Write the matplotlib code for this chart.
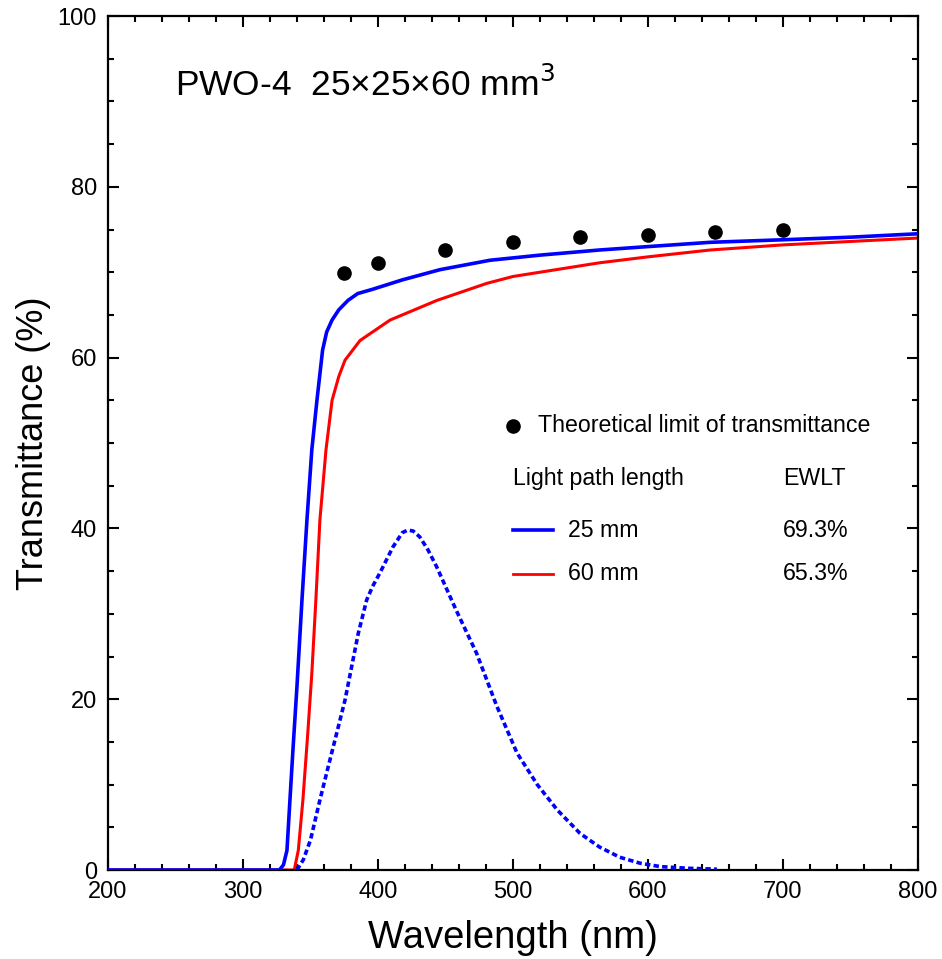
# -*- coding: utf-8 -*-

from matplotlib import pyplot as plt
from matplotlib.ticker import MultipleLocator

plt.rcParams['font.family'] = ['Liberation Sans', 'DejaVu Sans']

# transmittance, 25 mm light path
wl_25 = [200, 327, 330, 332.6, 334.8, 337, 340, 343.7, 347.4, 351, 354.8, 359, 362, 366,
         371, 377.8, 385, 396, 418, 446, 483, 520, 564, 600, 646, 700, 750, 787, 800]
t_25 = [0, 0, 0.6, 2.3, 8.2, 14, 21.5, 31.6, 41, 49.2, 55, 60.9, 63, 64.4,
        65.6, 66.7, 67.5, 68, 69.1, 70.3, 71.4, 72, 72.6, 73, 73.5, 73.8, 74.1, 74.4, 74.5]

# transmittance, 60 mm light path
wl_60 = [200, 338, 341, 344.4, 348, 351, 354, 357, 361.5, 366, 371, 375.6, 386.7, 409,
         443.7, 480.7, 500, 564, 600, 646, 700, 750, 787, 800]
t_60 = [0, 0, 2.3, 8.2, 16, 23, 31.6, 41, 49.2, 55, 57.8, 59.7, 62, 64.4,
        66.7, 68.7, 69.5, 71.1, 71.8, 72.6, 73.2, 73.6, 73.9, 74]

# emission spectrum (arb. units)
wl_em = [340, 344.7, 350, 357, 363, 369.4, 375.6, 380.5, 385.4, 391.6, 396, 401.5, 411, 418,
         422, 426, 431, 437, 443.5, 458, 473, 488, 503, 518, 533, 549.6, 564, 579, 594, 609,
         630, 651]
em = [0, 1.2, 3.5, 8.2, 12, 16, 19.9, 23.8, 27.7, 31.6, 33.2, 34.8, 37.8, 39.5,
      39.8, 39.7, 39, 37.5, 35.5, 30.4, 25.4, 19.2, 13.7, 10, 7, 4.3, 2.7, 1.5, 0.8, 0.4,
      0.2, 0.1]

# theoretical limit
wl_lim = [375, 400, 450, 500, 550, 600, 650, 700]
t_lim = [69.9, 71.1, 72.6, 73.5, 74.1, 74.4, 74.7, 74.9]

fig = plt.figure(figsize=(9.42, 9.59), dpi=100)
ax = fig.add_axes([0.1146, 0.0928, 0.8599, 0.8905])

ax.plot(wl_60, t_60, color='red', lw=2.2, zorder=2)
ax.plot(wl_25, t_25, color='blue', lw=2.6, zorder=3)
ax.plot(wl_em, em, color='blue', lw=2.6, dashes=(1.5, 0.9), zorder=3)
ax.plot(wl_lim, t_lim, 'o', color='black', ms=9.5, zorder=4)

ax.set_xlim(200, 800)
ax.set_ylim(0, 100)
ax.xaxis.set_major_locator(MultipleLocator(100))
ax.xaxis.set_minor_locator(MultipleLocator(20))
ax.yaxis.set_major_locator(MultipleLocator(20))
ax.yaxis.set_minor_locator(MultipleLocator(5))
ax.tick_params(which='both', direction='in', top=True, right=True, width=1.5)
ax.tick_params(which='major', length=8, labelsize=17, pad=8)
ax.tick_params(which='minor', length=4.5)
for s in ax.spines.values():
    s.set_linewidth(1.6)

ax.set_xlabel('Wavelength (nm)', fontsize=27.5, labelpad=12)
ax.set_ylabel('Transmittance (%)', fontsize=26, labelpad=5)

ax.text(249.5, 91.9, 'PWO-4  25\u00d725\u00d760 mm$^3$', fontsize=25.5, va='center')

# legend block
fs = 16.7
ax.plot([500], [52], 'o', color='black', ms=9.5)
ax.text(518.5, 52, 'Theoretical limit of transmittance', fontsize=fs, va='center')
ax.text(500, 45.9, 'Light path length', fontsize=fs, va='center')
ax.text(700, 45.9, 'EWLT', fontsize=fs, va='center')
ax.plot([500, 529.6], [39.8, 39.8], color='blue', lw=2.6)
ax.text(540.7, 39.8, '25 mm', fontsize=fs, va='center')
ax.text(700, 39.8, '69.3%', fontsize=fs, va='center')
ax.plot([500, 529.6], [34.7, 34.7], color='red', lw=2)
ax.text(540.7, 34.7, '60 mm', fontsize=fs, va='center')
ax.text(700, 34.7, '65.3%', fontsize=fs, va='center')

plt.savefig('out.png', dpi=100)
plt.close()
